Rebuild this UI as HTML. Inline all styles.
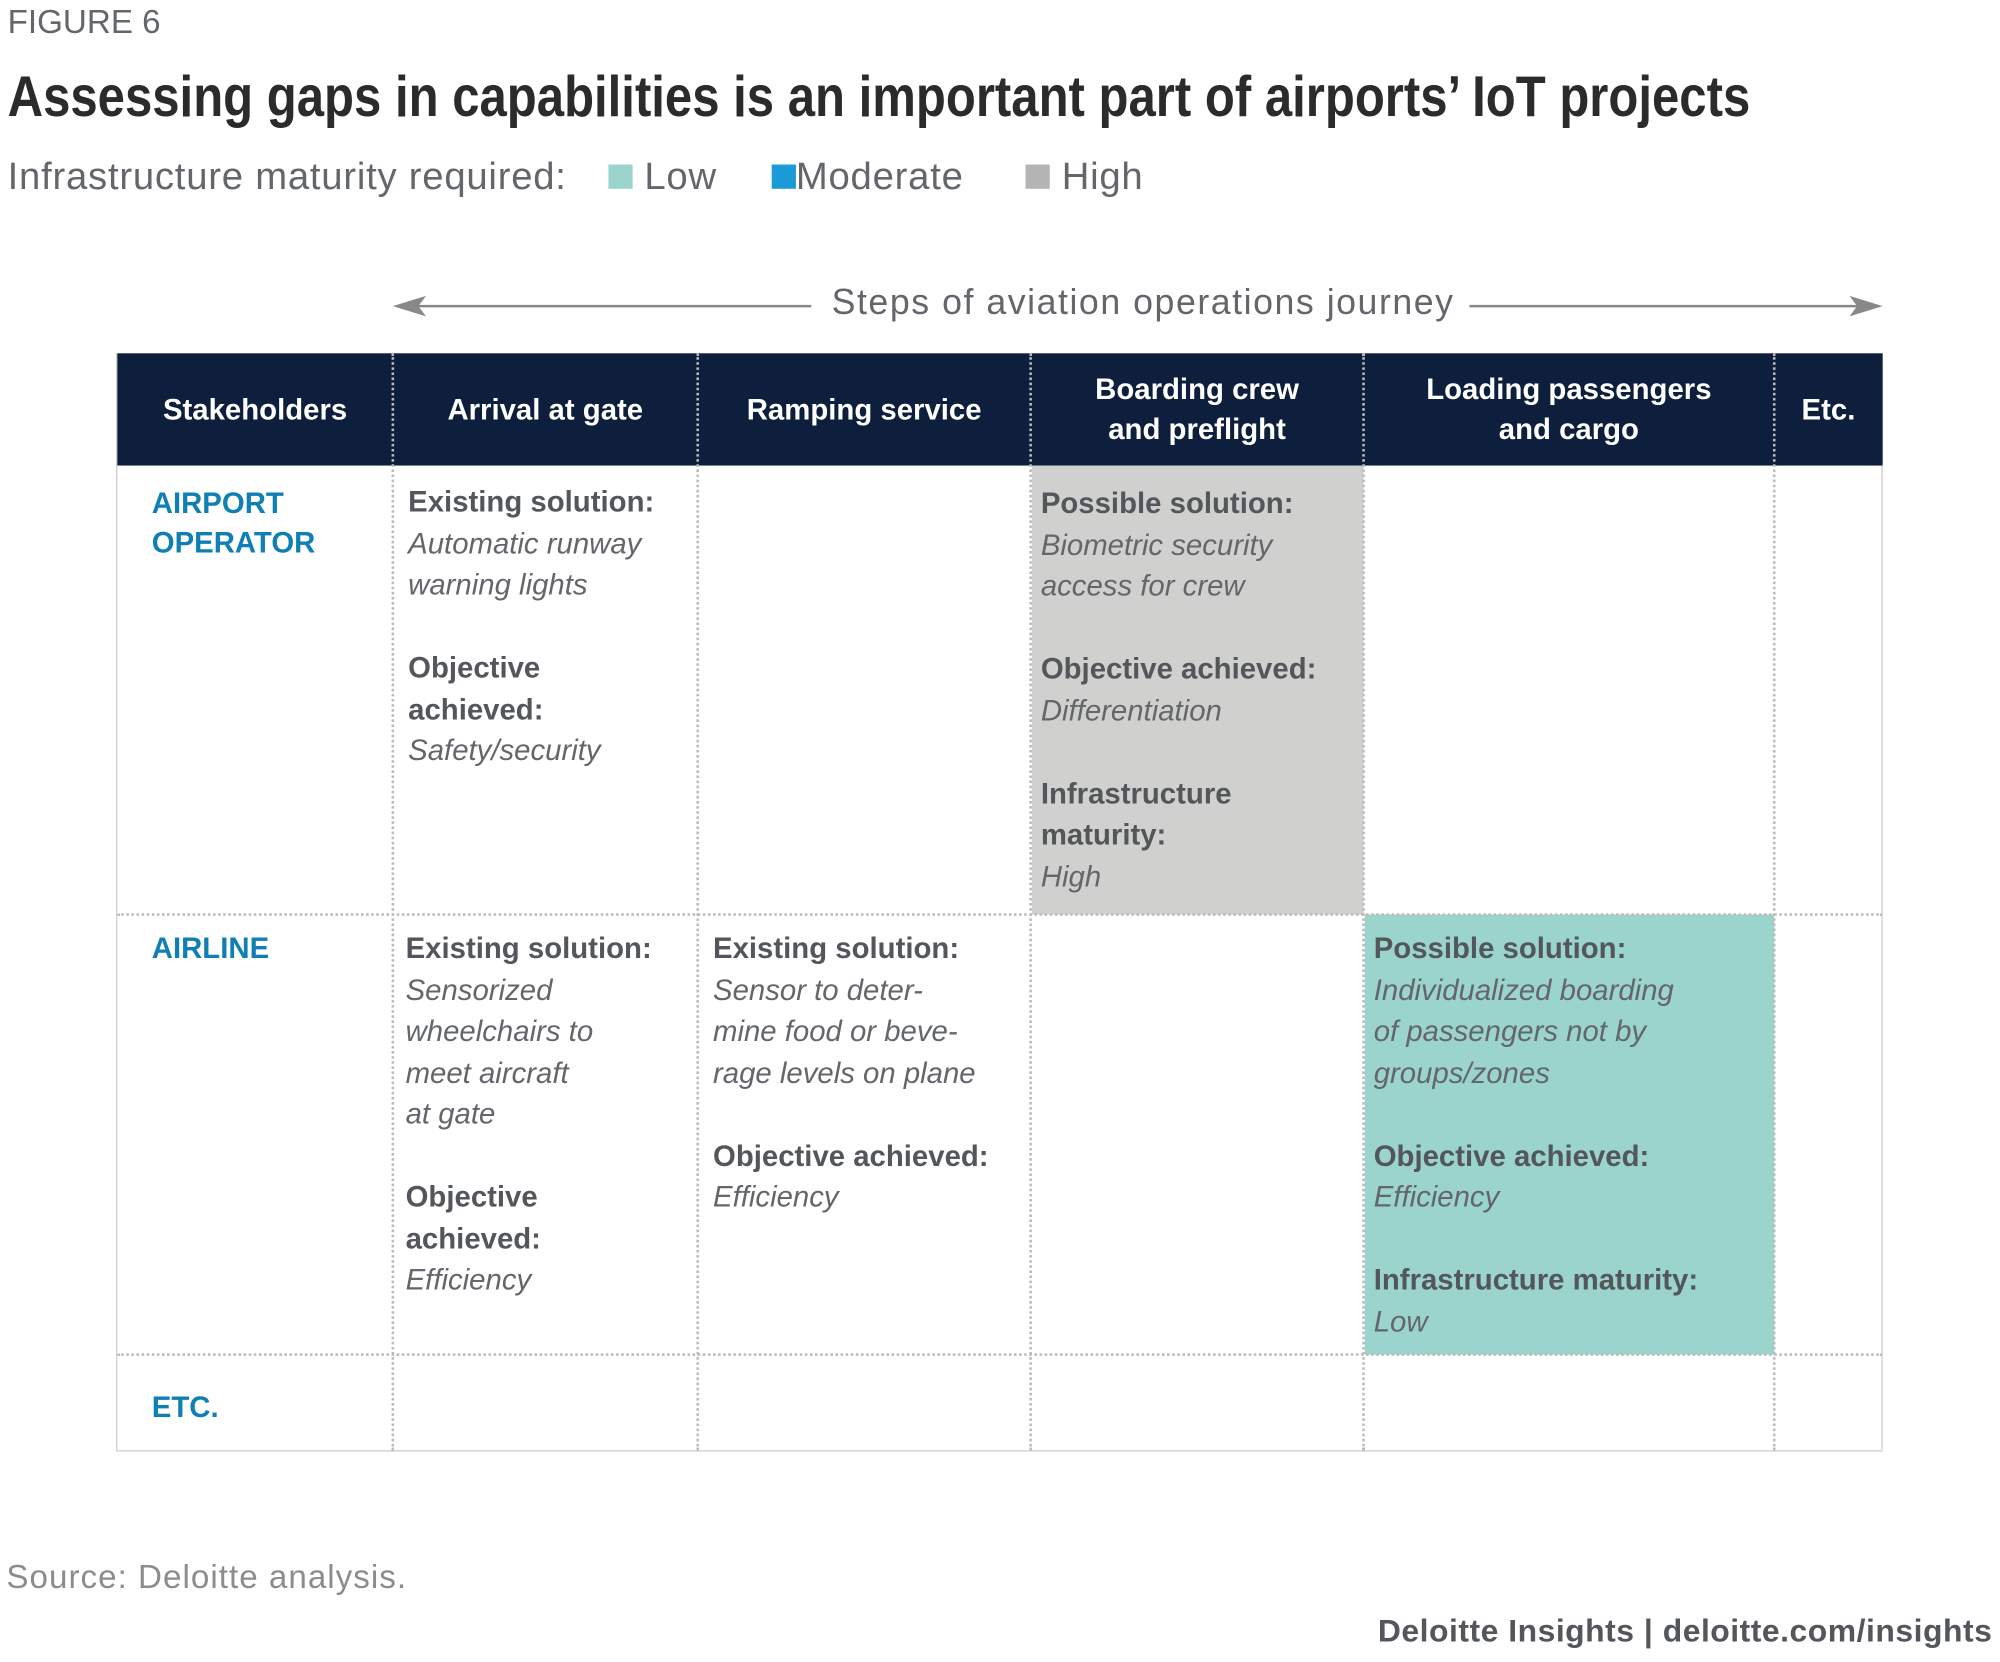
<!DOCTYPE html>
<html><head><meta charset="utf-8"><style>
html,body{margin:0;padding:0;background:#fff;width:2000px;height:1662px;overflow:hidden}
#s{position:absolute;left:0;top:0;width:1568px;height:1303px;transform:scale(1.27551);transform-origin:0 0;font-family:"Liberation Sans",sans-serif;color:#63666a}
.a{position:absolute;white-space:nowrap}
.h{color:#fff;font-weight:bold;font-size:23px;text-align:center;line-height:31px;position:absolute;display:flex;align-items:center;justify-content:center}
.c{position:absolute;font-size:23px;line-height:32.5px;color:#53565a}
.c b{color:#53565a}
.c i{color:#63666a}
.st{position:absolute;color:#0f7fb4;font-weight:bold;font-size:23px;line-height:31px}
.v{position:absolute;border-left:2px dotted #bbb}
.hz{position:absolute;border-top:2px dotted #bbb}
</style></head><body>
<div id="s">
<div class="a" style="left:6px;top:2px;font-size:26px;color:#63666a">FIGURE 6</div>
<div class="a" style="left:6px;top:50px;font-weight:bold;font-size:45px;color:#2b2b2b;transform:scaleX(0.855);transform-origin:0 0">Assessing gaps in capabilities is an important part of airports’ IoT projects</div>
<div class="a" style="left:6px;top:122px;font-size:30px;color:#63666a;letter-spacing:0.6px">Infrastructure maturity required:
<span style="margin-left:24px"><span style="display:inline-block;width:19px;height:19px;background:#9bd3cd"></span> Low</span>
<span style="margin-left:34px"><span style="display:inline-block;width:19px;height:19px;background:#1a9ad6"></span>Moderate</span>
<span style="margin-left:40px"><span style="display:inline-block;width:19px;height:19px;background:#b4b4b4"></span> High</span></div>
<svg class="a" style="left:300px;top:225px" width="1190" height="30">
<line x1="12" y1="15" x2="336" y2="15" stroke="#888" stroke-width="2"/><path d="M8 15 L34 7 L28 15 L34 23Z" fill="#888"/>
<line x1="852" y1="15" x2="1166" y2="15" stroke="#888" stroke-width="2"/><path d="M1176 15 L1150 7 L1156 15 L1150 23Z" fill="#888"/></svg>
<div class="a" style="left:652px;top:221px;font-size:28px;color:#63666a;letter-spacing:1.2px">Steps of aviation operations journey</div>
<div class="a" style="left:91px;top:277px;width:1383px;height:859px;border:1px solid #ccc"></div>
<div class="a" style="left:92px;top:277px;width:1384px;height:88px;background:#0d1f3c"></div>
<div class="a" style="left:809px;top:365px;width:260px;height:352px;background:#d0d0ce"></div>
<div class="a" style="left:1070px;top:717px;width:321px;height:345px;background:#9bd3cd"></div>
<div class="v" style="left:307px;top:277px;height:860px"></div>
<div class="v" style="left:546px;top:277px;height:860px"></div>
<div class="v" style="left:807px;top:277px;height:860px"></div>
<div class="v" style="left:1068px;top:277px;height:860px"></div>
<div class="v" style="left:1390px;top:277px;height:860px"></div>
<div class="hz" style="left:92px;top:716px;width:1384px"></div>
<div class="hz" style="left:92px;top:1061px;width:1384px"></div>
<div class="h" style="left:92px;top:277px;width:216px;height:88px">Stakeholders</div>
<div class="h" style="left:308px;top:277px;width:239px;height:88px">Arrival at gate</div>
<div class="h" style="left:547px;top:277px;width:261px;height:88px">Ramping service</div>
<div class="h" style="left:808px;top:277px;width:261px;height:88px">Boarding crew<br>and preflight</div>
<div class="h" style="left:1069px;top:277px;width:322px;height:88px">Loading passengers<br>and cargo</div>
<div class="h" style="left:1391px;top:277px;width:85px;height:88px">Etc.</div>
<div class="st" style="left:119px;top:379px">AIRPORT<br>OPERATOR</div>
<div class="st" style="left:119px;top:728px">AIRLINE</div>
<div class="st" style="left:119px;top:1088px">ETC.</div>
<div class="c" style="left:320px;top:377px"><b>Existing solution:</b><br><i>Automatic runway<br>warning lights</i><br><br><b>Objective<br>achieved:</b><br><i>Safety/security</i></div>
<div class="c" style="left:816px;top:378px"><b>Possible solution:</b><br><i>Biometric security<br>access for crew</i><br><br><b>Objective achieved:</b><br><i>Differentiation</i><br><br><b>Infrastructure<br>maturity:</b><br><i>High</i></div>
<div class="c" style="left:318px;top:727px"><b>Existing solution:</b><br><i>Sensorized<br>wheelchairs to<br>meet aircraft<br>at gate</i><br><br><b>Objective<br>achieved:</b><br><i>Efficiency</i></div>
<div class="c" style="left:559px;top:727px"><b>Existing solution:</b><br><i>Sensor to deter-<br>mine food or beve-<br>rage levels on plane</i><br><br><b>Objective achieved:</b><br><i>Efficiency</i></div>
<div class="c" style="left:1077px;top:727px"><b>Possible solution:</b><br><i>Individualized boarding<br>of passengers not by<br>groups/zones</i><br><br><b>Objective achieved:</b><br><i>Efficiency</i><br><br><b>Infrastructure maturity:</b><br><i>Low</i></div>
<div class="a" style="left:5px;top:1221px;font-size:26px;color:#8a8c8e;letter-spacing:0.8px">Source: Deloitte analysis.</div>
<div class="a" style="right:6px;top:1265px;font-size:25px;font-weight:bold;color:#53565a;letter-spacing:0.4px">Deloitte Insights | deloitte.com/insights</div>
</div>
</body></html>
